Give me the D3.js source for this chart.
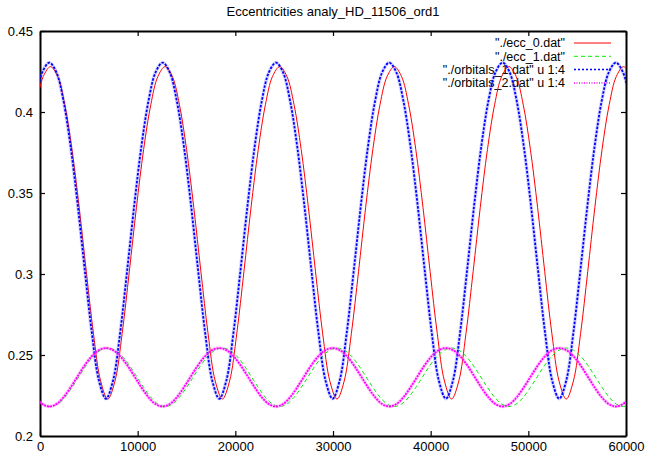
<!DOCTYPE html>
<html>
<head>
<meta charset="utf-8">
<script src="https://cdn.jsdelivr.net/npm/d3@7"></script>
<style>
  body { margin: 0; background: #fff; }
  svg { display: block; font-family: "Liberation Sans", Arial, sans-serif; }
</style>
</head>
<body>
<div id="chart"></div>
<script>
// x positions (time) of the samples
const redX = [-392, 342,
  1075, 1808, 2542, 3275, 4009, 4742, 5475, 6209, 6942, 7676, 8409, 9142, 9876, 10609, 11343, 12076,
  12809, 13543, 14276, 15010, 15743, 16476, 17210, 17943, 18677, 19410, 20143, 20877, 21610, 22344, 23077, 23810,
  24544, 25277, 26011, 26744, 27477, 28211, 28944, 29678, 30411, 31144, 31878, 32611, 33345, 34078, 34811, 35545,
  36278, 37012, 37745, 38478, 39212, 39945, 40679, 41412, 42145, 42879, 43612, 44346, 45079, 45812, 46546, 47279,
  48013, 48746, 49479, 50213, 50946, 51680, 52413, 53146, 53880, 54613, 55347, 56080, 56813, 57547, 58280, 59014,
  59747, 60480, 61214];
const blueX = [-493, 232,
  957, 1682, 2407, 3132, 3857, 4582, 5307, 6032, 6757, 7483, 8208, 8933, 9658, 10383, 11108, 11833,
  12558, 13283, 14008, 14733, 15458, 16183, 16908, 17633, 18358, 19084, 19809, 20534, 21259, 21984, 22709, 23434,
  24159, 24884, 25609, 26334, 27059, 27784, 28509, 29234, 29959, 30685, 31410, 32135, 32860, 33585, 34310, 35035,
  35760, 36485, 37210, 37935, 38660, 39385, 40110, 40835, 41560, 42286, 43011, 43736, 44461, 45186, 45911, 46636,
  47361, 48086, 48811, 49536, 50261, 50986, 51711, 52436, 53161, 53887, 54612, 55337, 56062, 56787, 57512, 58237,
  58962, 59687, 60412, 61137];

// "./ecc_0.dat"
const ecc0 = [0.4045, 0.4220,
  0.4280, 0.4220, 0.4045, 0.3768, 0.3412, 0.3014, 0.2631, 0.2339, 0.2228, 0.2339, 0.2631, 0.3014, 0.3412, 0.3768, 0.4045, 0.4220,
  0.4280, 0.4220, 0.4045, 0.3768, 0.3412, 0.3014, 0.2631, 0.2339, 0.2228, 0.2339, 0.2631, 0.3014, 0.3412, 0.3768, 0.4045, 0.4220,
  0.4280, 0.4220, 0.4045, 0.3768, 0.3412, 0.3014, 0.2631, 0.2339, 0.2228, 0.2339, 0.2631, 0.3014, 0.3412, 0.3768, 0.4045, 0.4220,
  0.4280, 0.4220, 0.4045, 0.3768, 0.3412, 0.3014, 0.2631, 0.2339, 0.2228, 0.2339, 0.2631, 0.3014, 0.3412, 0.3768, 0.4045, 0.4220,
  0.4280, 0.4220, 0.4045, 0.3768, 0.3412, 0.3014, 0.2631, 0.2339, 0.2228, 0.2339, 0.2631, 0.3014, 0.3412, 0.3768, 0.4045, 0.4220,
  0.4280, 0.4220, 0.4045];
// "./ecc_1.dat"
const ecc1 = [0.2239, 0.2197,
  0.2182, 0.2197, 0.2239, 0.2300, 0.2369, 0.2437, 0.2493, 0.2530, 0.2543, 0.2530, 0.2493, 0.2437, 0.2369, 0.2300, 0.2239, 0.2197,
  0.2182, 0.2197, 0.2239, 0.2300, 0.2369, 0.2437, 0.2493, 0.2530, 0.2543, 0.2530, 0.2493, 0.2437, 0.2369, 0.2300, 0.2239, 0.2197,
  0.2182, 0.2197, 0.2239, 0.2300, 0.2369, 0.2437, 0.2493, 0.2530, 0.2543, 0.2530, 0.2493, 0.2437, 0.2369, 0.2300, 0.2239, 0.2197,
  0.2182, 0.2197, 0.2239, 0.2300, 0.2369, 0.2437, 0.2493, 0.2530, 0.2543, 0.2530, 0.2493, 0.2437, 0.2369, 0.2300, 0.2239, 0.2197,
  0.2182, 0.2197, 0.2239, 0.2300, 0.2369, 0.2437, 0.2493, 0.2530, 0.2543, 0.2530, 0.2493, 0.2437, 0.2369, 0.2300, 0.2239, 0.2197,
  0.2182, 0.2197, 0.2239];
// "./orbitals_1.dat" u 1:4
const orb1 = [0.4068, 0.4245,
  0.4305, 0.4245, 0.4068, 0.3788, 0.3428, 0.3026, 0.2638, 0.2343, 0.2230, 0.2343, 0.2638, 0.3026, 0.3428, 0.3788, 0.4068, 0.4245,
  0.4305, 0.4245, 0.4068, 0.3788, 0.3428, 0.3026, 0.2638, 0.2343, 0.2230, 0.2343, 0.2638, 0.3026, 0.3428, 0.3788, 0.4068, 0.4245,
  0.4305, 0.4245, 0.4068, 0.3788, 0.3428, 0.3026, 0.2638, 0.2343, 0.2230, 0.2343, 0.2638, 0.3026, 0.3428, 0.3788, 0.4068, 0.4245,
  0.4305, 0.4245, 0.4068, 0.3788, 0.3428, 0.3026, 0.2638, 0.2343, 0.2230, 0.2343, 0.2638, 0.3026, 0.3428, 0.3788, 0.4068, 0.4245,
  0.4305, 0.4245, 0.4068, 0.3788, 0.3428, 0.3026, 0.2638, 0.2343, 0.2230, 0.2343, 0.2638, 0.3026, 0.3428, 0.3788, 0.4068, 0.4245,
  0.4305, 0.4245, 0.4068, 0.3788];
// "./orbitals_2.dat" u 1:4
const orb2 = [0.2239, 0.2197,
  0.2182, 0.2197, 0.2239, 0.2300, 0.2369, 0.2437, 0.2493, 0.2530, 0.2543, 0.2530, 0.2493, 0.2437, 0.2369, 0.2300, 0.2239, 0.2197,
  0.2182, 0.2197, 0.2239, 0.2300, 0.2369, 0.2437, 0.2493, 0.2530, 0.2543, 0.2530, 0.2493, 0.2437, 0.2369, 0.2300, 0.2239, 0.2197,
  0.2182, 0.2197, 0.2239, 0.2300, 0.2369, 0.2437, 0.2493, 0.2530, 0.2543, 0.2530, 0.2493, 0.2437, 0.2369, 0.2300, 0.2239, 0.2197,
  0.2182, 0.2197, 0.2239, 0.2300, 0.2369, 0.2437, 0.2493, 0.2530, 0.2543, 0.2530, 0.2493, 0.2437, 0.2369, 0.2300, 0.2239, 0.2197,
  0.2182, 0.2197, 0.2239, 0.2300, 0.2369, 0.2437, 0.2493, 0.2530, 0.2543, 0.2530, 0.2493, 0.2437, 0.2369, 0.2300, 0.2239, 0.2197,
  0.2182, 0.2197, 0.2239, 0.2300];

const xTicks = [0, 10000, 20000, 30000, 40000, 50000, 60000];
const yTicks = [0.2, 0.25, 0.3, 0.35, 0.4, 0.45];
const titleText = 'Eccentricities analy_HD_11506_ord1';

const series = [
  { name: '"./ecc_0.dat"', xs: redX, ys: ecc0, color: '#ff0000', width: 1, dash: null, keyDash: null },
  { name: '"./ecc_1.dat"', xs: redX, ys: ecc1, color: '#00ee00', width: 1, dash: '4,3', keyDash: '4,3' },
  { name: '"./orbitals_1.dat" u 1:4', xs: blueX, ys: orb1, color: '#0000ff', width: 1.8, dash: '2.5,1.5', keyDash: '2,2', halo: 'rgba(80,80,255,0.25)' },
  { name: '"./orbitals_2.dat" u 1:4', xs: blueX, ys: orb2, color: '#ff00ff', width: 1.8, dash: '2,1', keyDash: '1,1.5', halo: 'rgba(255,90,255,0.3)' }
];

const width = 648, height = 453;
const margin = { left: 40, right: 22, top: 31, bottom: 17 };

const svg = d3.select('#chart').append('svg')
  .attr('width', width)
  .attr('height', height);

const x = d3.scaleLinear().domain([0, 60000]).range([margin.left, width - margin.right]);
const y = d3.scaleLinear().domain([0.2, 0.45]).range([height - margin.bottom, margin.top]);

svg.append('clipPath').attr('id', 'plot-clip')
  .append('rect')
  .attr('x', x(0)).attr('y', y(0.45))
  .attr('width', x(60000) - x(0)).attr('height', y(0.2) - y(0.45));

// title
svg.append('text')
  .attr('x', 333).attr('y', 16)
  .attr('text-anchor', 'middle')
  .style('font-size', '13px')
  .text(titleText);

// axes (ticks point inward, like gnuplot)
const fmtY = d => String(+d.toFixed(2));
svg.append('g').attr('class', 'axis')
  .attr('transform', `translate(${x(0)},0)`)
  .call(d3.axisLeft(y).tickValues(yTicks).tickFormat(fmtY).tickSizeInner(-5).tickSizeOuter(0).tickPadding(7));
svg.append('g').attr('class', 'axis')
  .attr('transform', `translate(${x(60000)},0)`)
  .call(d3.axisRight(y).tickValues(yTicks).tickFormat('').tickSizeInner(-5).tickSizeOuter(0));
svg.append('g').attr('class', 'axis')
  .attr('transform', `translate(0,${y(0.2)})`)
  .call(d3.axisBottom(x).tickValues(xTicks).tickFormat(d => d).tickSizeInner(-5).tickSizeOuter(0).tickPadding(6));
svg.append('g').attr('class', 'axis')
  .attr('transform', `translate(0,${y(0.45)})`)
  .call(d3.axisTop(x).tickValues(xTicks).tickFormat('').tickSizeInner(-5).tickSizeOuter(0));

svg.selectAll('.axis text').style('font-size', '13px').style('font-family', '"Liberation Sans", Arial, sans-serif').attr('fill', '#000');
svg.selectAll('.axis .domain').attr('stroke', '#000').attr('stroke-width', 2);
svg.selectAll('.axis .tick line').attr('stroke', '#000').attr('stroke-width', 1.2);

// key
const key = svg.append('g');
series.forEach((s, i) => {
  const ky = 43 + i * 13.3;
  key.append('text')
    .attr('x', 565).attr('y', ky)
    .attr('dy', '0.35em')
    .attr('text-anchor', 'end')
    .style('font-size', '12.5px')
    .text(s.name);
  key.append('line')
    .attr('x1', 574).attr('x2', 611)
    .attr('y1', ky).attr('y2', ky)
    .attr('stroke', s.color)
    .attr('stroke-width', s.width > 1 ? 1.5 : 1)
    .attr('stroke-dasharray', s.keyDash);
});

// curves
const plot = svg.append('g').attr('clip-path', 'url(#plot-clip)');
series.forEach(s => {
  const pts = s.xs.map((v, i) => [v, s.ys[i]]);
  const line = d3.line()
    .x(d => x(d[0]))
    .y(d => y(d[1]))
    .curve(d3.curveCatmullRom);
  if (s.halo) {
    plot.append('path')
      .datum(pts)
      .attr('d', line)
      .attr('fill', 'none')
      .attr('stroke', s.halo)
      .attr('stroke-width', 3.5);
  }
  plot.append('path')
    .datum(pts)
    .attr('d', line)
    .attr('fill', 'none')
    .attr('stroke', s.color)
    .attr('stroke-width', s.width)
    .attr('stroke-dasharray', s.dash);
});
</script>
</body>
</html>
